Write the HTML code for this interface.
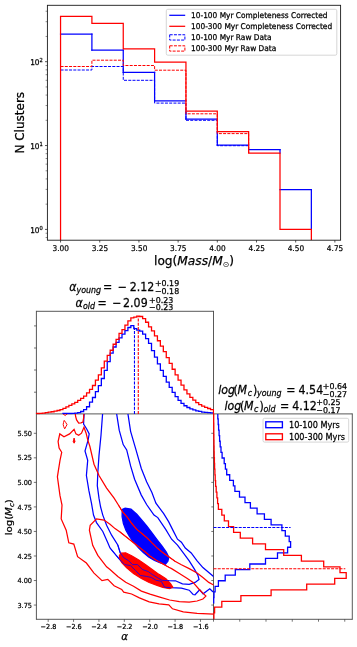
<!DOCTYPE html>
<html><head><meta charset="utf-8"><title>Cluster mass function</title>
<style>
html,body{margin:0;padding:0;background:#ffffff;}
svg{display:block;font-family:"DejaVu Sans","Liberation Sans",sans-serif;fill:#000;}
text{stroke:#000;stroke-width:0.25px;}
text.s{stroke-width:0.22px;}
</style></head><body>
<svg width="357" height="647" viewBox="0 0 357 647">
<defs>
<clipPath id="c1"><rect x="47.4" y="5.3" width="293.20" height="234.90"/></clipPath>
<clipPath id="c2"><rect x="35.699999999999996" y="311.3" width="178.50" height="103.30"/></clipPath>
<clipPath id="c3"><rect x="212.8" y="413.9" width="139.50" height="206.10"/></clipPath>
<clipPath id="c4"><rect x="36.4" y="413.9" width="177.10" height="205.40"/></clipPath>
</defs>
<rect x="0" y="0" width="357" height="647" fill="#ffffff"/>
<g clip-path="url(#c1)">
<line x1="60.55" y1="34.10" x2="91.90" y2="34.10" stroke="#0000ff" stroke-width="1.25" stroke-linecap="square"/>
<line x1="91.90" y1="50.10" x2="123.25" y2="50.10" stroke="#0000ff" stroke-width="1.25" stroke-linecap="square"/>
<line x1="123.25" y1="72.30" x2="154.60" y2="72.30" stroke="#0000ff" stroke-width="1.25" stroke-linecap="square"/>
<line x1="154.60" y1="100.80" x2="185.95" y2="100.80" stroke="#0000ff" stroke-width="1.25" stroke-linecap="square"/>
<line x1="185.95" y1="119.10" x2="217.30" y2="119.10" stroke="#0000ff" stroke-width="1.25" stroke-linecap="square"/>
<line x1="217.30" y1="145.20" x2="248.65" y2="145.20" stroke="#0000ff" stroke-width="1.25" stroke-linecap="square"/>
<line x1="248.65" y1="149.60" x2="280.00" y2="149.60" stroke="#0000ff" stroke-width="1.25" stroke-linecap="square"/>
<line x1="280.00" y1="189.60" x2="311.35" y2="189.60" stroke="#0000ff" stroke-width="1.25" stroke-linecap="square"/>
<line x1="91.90" y1="34.10" x2="91.90" y2="50.10" stroke="#0000ff" stroke-width="1.25" stroke-linecap="square"/>
<line x1="123.25" y1="50.10" x2="123.25" y2="72.30" stroke="#0000ff" stroke-width="1.25" stroke-linecap="square"/>
<line x1="154.60" y1="72.30" x2="154.60" y2="100.80" stroke="#0000ff" stroke-width="1.25" stroke-linecap="square"/>
<line x1="185.95" y1="111.00" x2="185.95" y2="119.10" stroke="#0000ff" stroke-width="1.25" stroke-linecap="square"/>
<line x1="217.30" y1="131.50" x2="217.30" y2="145.20" stroke="#0000ff" stroke-width="1.25" stroke-linecap="square"/>
<line x1="280.00" y1="149.60" x2="280.00" y2="153.10" stroke="#0000ff" stroke-width="1.25" stroke-linecap="square"/>
<line x1="311.35" y1="189.60" x2="311.35" y2="229.40" stroke="#0000ff" stroke-width="1.25" stroke-linecap="square"/>
<path d="M60.55,70.00 L91.90,70.00 L91.90,66.50 L123.25,66.50 L123.25,80.30 L154.60,80.30 L154.60,103.10 L185.95,103.10 L185.95,120.30 L217.30,120.30 L217.30,145.70 L248.65,145.70 L248.65,149.60" fill="none" stroke="#0000ff" stroke-width="1.0" stroke-linejoin="miter" stroke-dasharray="3.0 1.25"/>
<path d="M60.55,240.20 L60.55,16.35 L91.90,16.35 L91.90,23.45 L123.25,23.45 L123.25,48.80 L154.60,48.80 L154.60,62.20 L185.95,62.20 L185.95,111.00 L217.30,111.00 L217.30,131.50 L248.65,131.50 L248.65,153.10 L280.00,153.10 L280.00,229.40 L311.35,229.40 L311.35,240.20" fill="none" stroke="#ff0000" stroke-width="1.25" stroke-linejoin="miter" />
<path d="M60.55,66.50 L91.90,66.50 L91.90,60.20 L123.25,60.20 L123.25,65.50 L154.60,65.50 L154.60,70.20 L185.95,70.20 L185.95,113.80 L217.30,113.80 L217.30,133.60 L248.65,133.60 L248.65,153.10" fill="none" stroke="#ff0000" stroke-width="1.0" stroke-linejoin="miter" stroke-dasharray="3.0 1.25"/>
</g>
<rect x="47.4" y="5.3" width="293.20" height="234.90" fill="none" stroke="#1a1a1a" stroke-width="0.9"/>
<line x1="60.55" y1="240.20" x2="60.55" y2="242.50" stroke="#1c1c1c" stroke-width="0.75" />
<text transform="translate(60.75,251.10) scale(0.935,1)" font-size="7.9" text-anchor="middle" class="s">3.00</text>
<line x1="99.74" y1="240.20" x2="99.74" y2="242.50" stroke="#1c1c1c" stroke-width="0.75" />
<text transform="translate(99.94,251.10) scale(0.935,1)" font-size="7.9" text-anchor="middle" class="s">3.25</text>
<line x1="138.93" y1="240.20" x2="138.93" y2="242.50" stroke="#1c1c1c" stroke-width="0.75" />
<text transform="translate(139.12,251.10) scale(0.935,1)" font-size="7.9" text-anchor="middle" class="s">3.50</text>
<line x1="178.11" y1="240.20" x2="178.11" y2="242.50" stroke="#1c1c1c" stroke-width="0.75" />
<text transform="translate(178.31,251.10) scale(0.935,1)" font-size="7.9" text-anchor="middle" class="s">3.75</text>
<line x1="217.30" y1="240.20" x2="217.30" y2="242.50" stroke="#1c1c1c" stroke-width="0.75" />
<text transform="translate(217.50,251.10) scale(0.935,1)" font-size="7.9" text-anchor="middle" class="s">4.00</text>
<line x1="256.49" y1="240.20" x2="256.49" y2="242.50" stroke="#1c1c1c" stroke-width="0.75" />
<text transform="translate(256.69,251.10) scale(0.935,1)" font-size="7.9" text-anchor="middle" class="s">4.25</text>
<line x1="295.68" y1="240.20" x2="295.68" y2="242.50" stroke="#1c1c1c" stroke-width="0.75" />
<text transform="translate(295.88,251.10) scale(0.935,1)" font-size="7.9" text-anchor="middle" class="s">4.50</text>
<line x1="334.86" y1="240.20" x2="334.86" y2="242.50" stroke="#1c1c1c" stroke-width="0.75" />
<text transform="translate(335.06,251.10) scale(0.935,1)" font-size="7.9" text-anchor="middle" class="s">4.75</text>
<line x1="45.00" y1="229.40" x2="47.40" y2="229.40" stroke="#1c1c1c" stroke-width="0.75" />
<text transform="translate(42.80,232.90) scale(0.935,1)" font-size="7.9" text-anchor="end">10<tspan dy="-3.4" font-size="5.53">0</tspan></text>
<line x1="45.00" y1="145.55" x2="47.40" y2="145.55" stroke="#1c1c1c" stroke-width="0.75" />
<text transform="translate(42.80,149.05) scale(0.935,1)" font-size="7.9" text-anchor="end">10<tspan dy="-3.4" font-size="5.53">1</tspan></text>
<line x1="45.00" y1="61.70" x2="47.40" y2="61.70" stroke="#1c1c1c" stroke-width="0.75" />
<text transform="translate(42.80,65.20) scale(0.935,1)" font-size="7.9" text-anchor="end">10<tspan dy="-3.4" font-size="5.53">2</tspan></text>
<line x1="45.60" y1="237.53" x2="47.40" y2="237.53" stroke="#1c1c1c" stroke-width="0.5" />
<line x1="45.60" y1="233.24" x2="47.40" y2="233.24" stroke="#1c1c1c" stroke-width="0.5" />
<line x1="45.60" y1="204.16" x2="47.40" y2="204.16" stroke="#1c1c1c" stroke-width="0.5" />
<line x1="45.60" y1="189.39" x2="47.40" y2="189.39" stroke="#1c1c1c" stroke-width="0.5" />
<line x1="45.60" y1="178.92" x2="47.40" y2="178.92" stroke="#1c1c1c" stroke-width="0.5" />
<line x1="45.60" y1="170.79" x2="47.40" y2="170.79" stroke="#1c1c1c" stroke-width="0.5" />
<line x1="45.60" y1="164.15" x2="47.40" y2="164.15" stroke="#1c1c1c" stroke-width="0.5" />
<line x1="45.60" y1="158.54" x2="47.40" y2="158.54" stroke="#1c1c1c" stroke-width="0.5" />
<line x1="45.60" y1="153.68" x2="47.40" y2="153.68" stroke="#1c1c1c" stroke-width="0.5" />
<line x1="45.60" y1="149.39" x2="47.40" y2="149.39" stroke="#1c1c1c" stroke-width="0.5" />
<line x1="45.60" y1="120.31" x2="47.40" y2="120.31" stroke="#1c1c1c" stroke-width="0.5" />
<line x1="45.60" y1="105.54" x2="47.40" y2="105.54" stroke="#1c1c1c" stroke-width="0.5" />
<line x1="45.60" y1="95.07" x2="47.40" y2="95.07" stroke="#1c1c1c" stroke-width="0.5" />
<line x1="45.60" y1="86.94" x2="47.40" y2="86.94" stroke="#1c1c1c" stroke-width="0.5" />
<line x1="45.60" y1="80.30" x2="47.40" y2="80.30" stroke="#1c1c1c" stroke-width="0.5" />
<line x1="45.60" y1="74.69" x2="47.40" y2="74.69" stroke="#1c1c1c" stroke-width="0.5" />
<line x1="45.60" y1="69.83" x2="47.40" y2="69.83" stroke="#1c1c1c" stroke-width="0.5" />
<line x1="45.60" y1="65.54" x2="47.40" y2="65.54" stroke="#1c1c1c" stroke-width="0.5" />
<line x1="45.60" y1="36.46" x2="47.40" y2="36.46" stroke="#1c1c1c" stroke-width="0.5" />
<line x1="45.60" y1="21.69" x2="47.40" y2="21.69" stroke="#1c1c1c" stroke-width="0.5" />
<line x1="45.60" y1="11.22" x2="47.40" y2="11.22" stroke="#1c1c1c" stroke-width="0.5" />
<text transform="translate(194.00,265.20) scale(1.0,1)" font-size="12.2" text-anchor="middle" >log(<tspan font-style="italic">Mass</tspan>/<tspan font-style="italic">M</tspan><tspan dy="2.2" font-size="7.8" stroke-width="0">⊙</tspan><tspan dy="-2.2">)</tspan></text>
<text transform="translate(23.5,122.75) rotate(-90)" font-size="12.0" text-anchor="middle">N Clusters</text>
<rect x="166.3" y="9.3" width="170.5" height="45.9" rx="1.5" fill="#ffffff" fill-opacity="0.8" stroke="#cccccc" stroke-width="0.8"/>
<line x1="169.30" y1="15.30" x2="185.20" y2="15.30" stroke="#0000ff" stroke-width="1.25" />
<line x1="169.30" y1="26.30" x2="185.20" y2="26.30" stroke="#ff0000" stroke-width="1.25" />
<rect x="169.7" y="34.75" width="15.2" height="5.3" fill="none" stroke="#0000ff" stroke-width="1.0" stroke-dasharray="3.0 1.25"/>
<rect x="169.7" y="45.8" width="15.2" height="5.3" fill="none" stroke="#ff0000" stroke-width="1.0" stroke-dasharray="3.0 1.25"/>
<text transform="translate(191.00,18.25) scale(0.935,1)" font-size="7.95" text-anchor="start" >10-100 Myr Completeness Corrected</text>
<text transform="translate(191.00,29.25) scale(0.935,1)" font-size="7.95" text-anchor="start" >100-300 Myr Completeness Corrected</text>
<text transform="translate(191.00,40.30) scale(0.935,1)" font-size="7.95" text-anchor="start" >10-100 Myr Raw Data</text>
<text transform="translate(191.00,51.35) scale(0.935,1)" font-size="7.95" text-anchor="start" >100-300 Myr Raw Data</text>
<line x1="36.40" y1="311.30" x2="213.50" y2="311.30" stroke="#3a3a3a" stroke-width="0.85" />
<line x1="36.40" y1="310.85" x2="36.40" y2="619.75" stroke="#3a3a3a" stroke-width="0.85" />
<line x1="213.50" y1="310.85" x2="213.50" y2="619.75" stroke="#3a3a3a" stroke-width="0.85" />
<line x1="36.40" y1="413.90" x2="352.30" y2="413.90" stroke="#3a3a3a" stroke-width="0.85" />
<line x1="36.40" y1="619.30" x2="352.30" y2="619.30" stroke="#3a3a3a" stroke-width="0.85" />
<line x1="352.30" y1="413.45" x2="352.30" y2="619.75" stroke="#3a3a3a" stroke-width="0.85" />
<g clip-path="url(#c2)">
<path d="M62.97,413.90 L62.97,413.52 L65.92,413.52 L65.92,413.51 L68.87,413.51 L68.87,413.50 L71.82,413.50 L71.82,413.38 L74.77,413.38 L74.77,413.11 L77.72,413.11 L77.72,412.67 L80.67,412.67 L80.67,411.52 L83.63,411.52 L83.63,409.64 L86.58,409.64 L86.58,406.74 L89.53,406.74 L89.53,402.20 L92.48,402.20 L92.48,397.51 L95.43,397.51 L95.43,391.68 L98.38,391.68 L98.38,385.58 L101.34,385.58 L101.34,378.51 L104.29,378.51 L104.29,370.28 L107.24,370.28 L107.24,361.54 L110.19,361.54 L110.19,353.12 L113.14,353.12 L113.14,346.99 L116.09,346.99 L116.09,342.34 L119.05,342.34 L119.05,337.88 L122.00,337.88 L122.00,334.06 L124.95,334.06 L124.95,330.61 L127.90,330.61 L127.90,327.52 L130.85,327.52 L130.85,325.61 L133.81,325.61 L133.81,328.61 L136.76,328.61 L136.76,330.08 L139.71,330.08 L139.71,331.04 L142.66,331.04 L142.66,334.11 L145.61,334.11 L145.61,338.67 L148.56,338.67 L148.56,343.40 L151.51,343.40 L151.51,350.53 L154.47,350.53 L154.47,357.15 L157.42,357.15 L157.42,363.78 L160.37,363.78 L160.37,370.39 L163.32,370.39 L163.32,376.30 L166.27,376.30 L166.27,382.12 L169.22,382.12 L169.22,387.39 L172.18,387.39 L172.18,392.42 L175.13,392.42 L175.13,396.58 L178.08,396.58 L178.08,400.36 L181.03,400.36 L181.03,403.31 L183.98,403.31 L183.98,405.74 L186.94,405.74 L186.94,407.48 L189.89,407.48 L189.89,408.84 L192.84,408.84 L192.84,409.85 L195.79,409.85 L195.79,410.78 L198.74,410.78 L198.74,411.47 L201.69,411.47 L201.69,412.17 L204.65,412.17 L204.65,412.45 L207.60,412.45 L207.60,412.70 L210.55,412.70 L210.55,412.96 L213.50,412.96 L213.50,413.90" fill="none" stroke="#0000ff" stroke-width="1.3" stroke-linejoin="miter" />
<path d="M36.40,413.90 L36.40,413.50 L39.35,413.50 L39.35,413.29 L42.30,413.29 L42.30,413.09 L45.25,413.09 L45.25,412.71 L48.21,412.71 L48.21,412.22 L51.16,412.22 L51.16,411.73 L54.11,411.73 L54.11,411.18 L57.06,411.18 L57.06,410.52 L60.01,410.52 L60.01,409.59 L62.97,409.59 L62.97,408.33 L65.92,408.33 L65.92,406.88 L68.87,406.88 L68.87,405.42 L71.82,405.42 L71.82,403.92 L74.77,403.92 L74.77,402.34 L77.72,402.34 L77.72,400.39 L80.67,400.39 L80.67,398.39 L83.63,398.39 L83.63,396.20 L86.58,396.20 L86.58,392.95 L89.53,392.95 L89.53,389.46 L92.48,389.46 L92.48,385.49 L95.43,385.49 L95.43,380.17 L98.38,380.17 L98.38,374.78 L101.34,374.78 L101.34,367.94 L104.29,367.94 L104.29,361.17 L107.24,361.17 L107.24,355.46 L110.19,355.46 L110.19,350.26 L113.14,350.26 L113.14,344.27 L116.09,344.27 L116.09,339.37 L119.05,339.37 L119.05,333.39 L122.00,333.39 L122.00,329.63 L124.95,329.63 L124.95,325.19 L127.90,325.19 L127.90,320.78 L130.85,320.78 L130.85,317.87 L133.81,317.87 L133.81,317.15 L136.76,317.15 L136.76,316.15 L139.71,316.15 L139.71,316.50 L142.66,316.50 L142.66,318.54 L145.61,318.54 L145.61,322.26 L148.56,322.26 L148.56,326.88 L151.51,326.88 L151.51,330.89 L154.47,330.89 L154.47,335.90 L157.42,335.90 L157.42,340.77 L160.37,340.77 L160.37,346.11 L163.32,346.11 L163.32,351.69 L166.27,351.69 L166.27,357.60 L169.22,357.60 L169.22,363.46 L172.18,363.46 L172.18,369.26 L175.13,369.26 L175.13,374.85 L178.08,374.85 L178.08,380.18 L181.03,380.18 L181.03,385.15 L183.98,385.15 L183.98,389.85 L186.94,389.85 L186.94,393.82 L189.89,393.82 L189.89,397.40 L192.84,397.40 L192.84,400.15 L195.79,400.15 L195.79,402.62 L198.74,402.62 L198.74,404.60 L201.69,404.60 L201.69,406.05 L204.65,406.05 L204.65,407.42 L207.60,407.42 L207.60,408.48 L210.55,408.48 L210.55,409.54 L213.50,409.54 L213.50,413.90" fill="none" stroke="#ff0000" stroke-width="1.3" stroke-linejoin="miter" />
<line x1="134.47" y1="413.90" x2="134.47" y2="327.50" stroke="#0000ff" stroke-width="1.1" stroke-dasharray="3.0 1.2"/>
<line x1="138.28" y1="413.90" x2="138.28" y2="316.00" stroke="#ff0000" stroke-width="1.1" stroke-dasharray="3.0 1.2"/>
</g>
<g clip-path="url(#c3)">
<path d="M213.50,410.90 L217.50,410.90 L217.50,407.77 L217.60,410.90 L217.60,413.35 L217.80,413.35 L217.80,418.93 L218.20,418.93 L218.20,424.51 L218.60,424.51 L218.60,430.09 L219.10,430.09 L219.10,435.67 L219.60,435.67 L219.60,441.25 L220.20,441.25 L220.20,446.83 L221.00,446.83 L221.00,452.41 L222.10,452.41 L222.10,457.99 L224.20,457.99 L224.20,463.57 L225.40,463.57 L225.40,469.15 L226.70,469.15 L226.70,474.73 L229.70,474.73 L229.70,480.31 L233.40,480.31 L233.40,485.89 L234.90,485.89 L234.90,491.47 L239.50,491.47 L239.50,497.05 L245.00,497.05 L245.00,502.63 L250.40,502.63 L250.40,508.21 L257.10,508.21 L257.10,513.79 L264.40,513.79 L264.40,519.37 L271.10,519.37 L271.10,524.95 L281.90,524.95 L281.90,530.53 L285.30,530.53 L285.30,536.11 L289.20,536.11 L289.20,541.69 L290.60,541.69 L290.60,547.27 L287.60,547.27 L287.60,552.85 L277.50,552.85 L277.50,558.43 L265.50,558.43 L265.50,564.01 L249.80,564.01 L249.80,569.59 L235.30,569.59 L235.30,575.17 L225.20,575.17 L225.20,580.75 L218.40,580.75 L218.40,586.33 L215.10,586.33 L215.10,591.91 L214.00,591.91 L214.00,597.49 L213.70,597.49 L213.70,603.07 L213.50,603.07" fill="none" stroke="#0000ff" stroke-width="1.3" stroke-linejoin="miter" />
<path d="M213.50,411.60 L213.70,411.60 L213.70,417.35 L213.70,417.35 L213.70,423.10 L213.80,423.10 L213.80,428.85 L213.80,428.85 L213.80,434.60 L213.90,434.60 L213.90,440.35 L214.00,440.35 L214.00,446.10 L214.10,446.10 L214.10,451.85 L214.20,451.85 L214.20,457.60 L214.40,457.60 L214.40,463.35 L214.60,463.35 L214.60,469.10 L214.90,469.10 L214.90,474.85 L215.20,474.85 L215.20,480.60 L215.60,480.60 L215.60,486.35 L216.20,486.35 L216.20,492.10 L216.90,492.10 L216.90,497.85 L217.60,497.85 L217.60,503.60 L218.40,503.60 L218.40,509.35 L221.80,509.35 L221.80,515.10 L224.30,515.10 L224.30,520.85 L228.50,520.85 L228.50,526.60 L233.60,526.60 L233.60,532.35 L240.30,532.35 L240.30,538.10 L252.60,538.10 L252.60,543.85 L265.50,543.85 L265.50,549.60 L283.70,549.60 L283.70,555.35 L301.40,555.35 L301.40,561.10 L323.70,561.10 L323.70,566.85 L340.00,566.85 L340.00,572.60 L346.20,572.60 L346.20,578.35 L334.70,578.35 L334.70,584.10 L306.70,584.10 L306.70,589.85 L271.10,589.85 L271.10,595.60 L240.90,595.60 L240.90,601.35 L221.80,601.35 L221.80,607.10 L214.60,607.10 L214.60,612.85 L213.90,612.85 L213.90,618.60 L213.50,618.60" fill="none" stroke="#ff0000" stroke-width="1.3" stroke-linejoin="miter" />
<line x1="213.50" y1="527.52" x2="290.60" y2="527.52" stroke="#0000ff" stroke-width="1.1" stroke-dasharray="3.0 1.2"/>
<line x1="213.50" y1="568.75" x2="345.30" y2="568.75" stroke="#ff0000" stroke-width="1.1" stroke-dasharray="3.0 1.2"/>
</g>
<g clip-path="url(#c4)">
<path d="M84.30,411.00 L83.80,419.00 L83.60,424.10 L86.70,429.00 L89.20,433.90 L88.10,440.20 L86.10,447.20 L85.00,451.00 L87.70,460.40 L86.40,475.50 L88.90,490.70 L91.50,503.30 L93.50,515.10 L96.50,522.60 L102.80,531.50 L107.80,542.80 L110.00,547.90 L114.90,553.80 L119.80,559.70 L124.70,564.60 L130.60,565.60 L135.50,570.50 L140.40,575.40 L146.30,576.40 L151.20,577.40 L156.10,580.30 L161.40,581.30 L164.50,587.20 L170.80,587.70 L181.40,588.20 L189.20,590.20 L193.10,594.50 L195.00,594.80 L199.70,589.80 L203.10,593.80 L209.80,588.80 L212.60,591.50 L216.00,591.00" fill="none" stroke="#0000ff" stroke-width="1.25" stroke-linejoin="miter" />
<path d="M127.50,411.00 L130.60,431.30 L136.00,449.90 L141.30,468.50 L146.60,481.80 L151.90,492.50 L155.90,503.10 L163.70,513.70 L168.60,521.60 L173.50,531.40 L177.50,539.20 L181.40,542.20 L185.30,548.00 L191.20,552.90 L197.10,560.80 L202.90,567.60 L208.80,572.50 L216.00,578.50" fill="none" stroke="#0000ff" stroke-width="1.25" stroke-linejoin="miter" />
<path d="M102.80,411.00 L101.00,435.20 L99.00,455.40 L97.80,473.00 L97.30,485.60 L99.00,498.20 L100.60,507.00 L102.80,515.10 L106.60,525.20 L111.60,535.20 L117.80,545.00 L120.20,552.80 L123.70,557.70 L128.60,560.70 L132.50,564.60 L137.50,564.60 L142.40,569.50 L148.20,571.50 L152.20,574.40 L157.10,577.40 L162.00,580.30 L168.80,580.70 L175.50,580.80 L182.40,583.90 L189.20,584.30 L195.10,582.40 L199.00,579.40 L198.00,575.50 L194.10,568.60 L189.20,560.80 L183.30,552.90 L177.50,545.10 L171.60,539.20 L165.70,529.40 L157.80,517.60 L154.00,515.10 L146.60,504.50 L141.30,495.10 L134.60,479.20 L130.60,465.90 L126.70,449.90 L123.20,444.60 L119.20,430.20 L116.20,411.00" fill="none" stroke="#0000ff" stroke-width="1.25" stroke-linejoin="miter" />
<path d="M122.60,509.20 L125.10,508.10 L131.00,509.20 L136.80,514.30 L141.90,520.20 L146.90,526.10 L152.00,532.80 L157.00,539.50 L162.10,546.20 L166.30,552.10 L168.80,557.10 L167.90,561.30 L165.40,564.20 L160.40,563.00 L154.50,560.50 L148.60,557.10 L143.60,552.90 L138.50,547.90 L133.50,542.00 L129.30,536.10 L125.90,530.30 L123.40,523.50 L122.10,516.80 L122.10,512.60 Z" fill="#0000ff" stroke="#0000ff" stroke-width="1.25" stroke-linejoin="miter" />
<path d="M119.40,555.80 L120.80,553.20 L125.70,552.80 L131.60,555.80 L138.40,559.70 L145.30,564.60 L152.20,569.50 L159.00,574.40 L165.90,578.80 L170.50,583.60 L172.80,587.20 L169.50,588.70 L162.90,587.40 L157.10,585.40 L149.20,582.50 L141.40,578.50 L133.50,573.60 L126.70,567.70 L121.80,562.60 L119.80,558.70 Z" fill="#ff0000" stroke="#ff0000" stroke-width="1.25" stroke-linejoin="miter" />
<path d="M110.00,547.90 L114.90,553.80 L119.80,559.70 L124.70,564.60 L130.60,565.60 L135.50,570.50 L140.40,575.40 L146.30,576.40 L151.20,577.40 L156.10,580.30 L161.40,581.30 L164.50,587.20 L170.80,587.70" fill="none" stroke="#0000ff" stroke-width="0.8" stroke-linejoin="miter" />
<path d="M117.80,545.00 L120.20,552.80 L123.70,557.70 L128.60,560.70 L132.50,564.60 L137.50,564.60 L142.40,569.50 L148.20,571.50 L152.20,574.40 L157.10,577.40 L162.00,580.30 L168.80,580.70" fill="none" stroke="#0000ff" stroke-width="0.8" stroke-linejoin="miter" />
<path d="M216.00,584.90 L213.10,584.70 L208.80,582.40 L202.90,577.50 L197.10,572.90 L189.20,568.60 L181.40,564.70 L175.00,561.30 L170.50,558.00 L165.40,554.60 L162.10,552.10 L157.00,547.90 L152.00,542.90 L146.90,537.80 L141.90,533.60 L136.80,529.40 L131.80,523.50 L127.60,517.60 L122.60,511.80 L118.40,505.00 L114.10,498.20 L106.60,488.10 L99.00,475.50 L94.00,464.20 L89.90,446.50 L87.80,440.20 L86.10,433.20 L84.00,427.30 L81.50,433.20 L78.70,435.30 L75.90,433.90 L74.10,429.30 L69.60,433.90 L64.00,436.70 L59.80,433.90 L58.10,441.60 L59.10,448.00 L61.70,452.30 L60.00,460.40 L57.40,476.80 L60.00,495.70 L62.00,505.00 L61.20,518.90 L66.20,530.20 L68.80,542.80 L73.80,544.10 L77.60,556.70 L86.40,563.00 L94.00,573.10 L102.00,580.60 L107.80,579.40 L114.10,585.70 L121.70,589.40 L123.70,592.10 L131.60,594.00 L139.40,597.90 L149.20,601.90 L159.00,603.80 L168.80,604.80 L172.50,608.80 L183.30,611.80 L197.10,613.30 L216.00,614.20" fill="none" stroke="#ff0000" stroke-width="1.25" stroke-linejoin="miter" />
<path d="M96.50,518.90 L90.20,525.20 L89.40,530.20 L92.70,545.30 L97.80,555.40 L106.60,566.80 L110.00,569.50 L117.80,576.40 L125.70,582.30 L133.50,586.20 L141.40,591.10 L150.00,594.10 L159.80,597.10 L169.60,600.00 L179.40,601.60 L189.20,602.00 L197.10,601.00 L202.90,599.00 L205.90,596.10 L203.90,594.10 L199.00,589.20 L193.10,582.40 L187.30,578.40 L179.40,573.50 L171.60,568.60 L168.80,567.20 L162.10,563.50 L156.20,560.20 L150.30,556.30 L145.30,552.10 L140.20,547.90 L135.20,544.00 L130.10,540.00 L125.10,536.10 L120.00,531.90 L115.00,528.60 L110.00,524.20 L104.00,520.10 Z" fill="none" stroke="#ff0000" stroke-width="1.25" stroke-linejoin="miter" />
<path d="M118.40,505.00 L122.60,511.80 L127.60,517.60 L131.80,523.50 L136.80,529.40 L141.90,533.60 L146.90,537.80 L152.00,542.90 L157.00,547.90 L162.10,552.10 L165.40,554.60 L170.50,558.00 L175.00,561.30" fill="none" stroke="#ff0000" stroke-width="0.9" stroke-linejoin="miter" />
<path d="M120.00,531.90 L125.10,536.10 L130.10,540.00 L135.20,544.00 L140.20,547.90 L145.30,552.10 L150.30,556.30 L156.20,560.20 L162.10,563.50 L168.80,567.20" fill="none" stroke="#ff0000" stroke-width="0.9" stroke-linejoin="miter" />
<path d="M64.20,420.40 L65.60,422.30 L67.00,424.60 L65.80,426.80 L64.70,428.80 L63.70,426.60 L63.20,424.40 L63.60,422.30 Z" fill="none" stroke="#ff0000" stroke-width="1.0" stroke-linejoin="miter" />
<path d="M74.10,438.00 L75.00,441.60 L74.10,443.20 L73.20,441.60 Z" fill="#ff0000" stroke="#ff0000" stroke-width="0.9" stroke-linejoin="miter" />
<path d="M75.00,411.00 L75.60,416.50 L76.60,419.90 L78.70,423.10 L81.00,422.80 L82.90,422.00 L83.60,418.00 L84.00,411.00" fill="none" stroke="#ff0000" stroke-width="1.25" stroke-linejoin="miter" />
<path d="M62.40,413.40 L65.20,415.50 L67.80,413.40" fill="none" stroke="#ff0000" stroke-width="1.0" stroke-linejoin="miter" />
</g>
<line x1="48.18" y1="619.30" x2="48.18" y2="621.90" stroke="#3a3a3a" stroke-width="0.7" />
<text transform="translate(48.48,629.00) scale(0.94,1)" font-size="6.9" text-anchor="middle" class="s">−2.8</text>
<line x1="73.56" y1="619.30" x2="73.56" y2="621.90" stroke="#3a3a3a" stroke-width="0.7" />
<text transform="translate(73.86,629.00) scale(0.94,1)" font-size="6.9" text-anchor="middle" class="s">−2.6</text>
<line x1="98.94" y1="619.30" x2="98.94" y2="621.90" stroke="#3a3a3a" stroke-width="0.7" />
<text transform="translate(99.24,629.00) scale(0.94,1)" font-size="6.9" text-anchor="middle" class="s">−2.4</text>
<line x1="124.32" y1="619.30" x2="124.32" y2="621.90" stroke="#3a3a3a" stroke-width="0.7" />
<text transform="translate(124.62,629.00) scale(0.94,1)" font-size="6.9" text-anchor="middle" class="s">−2.2</text>
<line x1="149.70" y1="619.30" x2="149.70" y2="621.90" stroke="#3a3a3a" stroke-width="0.7" />
<text transform="translate(150.00,629.00) scale(0.94,1)" font-size="6.9" text-anchor="middle" class="s">−2.0</text>
<line x1="175.08" y1="619.30" x2="175.08" y2="621.90" stroke="#3a3a3a" stroke-width="0.7" />
<text transform="translate(175.38,629.00) scale(0.94,1)" font-size="6.9" text-anchor="middle" class="s">−1.8</text>
<line x1="200.46" y1="619.30" x2="200.46" y2="621.90" stroke="#3a3a3a" stroke-width="0.7" />
<text transform="translate(200.76,629.00) scale(0.94,1)" font-size="6.9" text-anchor="middle" class="s">−1.6</text>
<line x1="33.80" y1="605.06" x2="36.40" y2="605.06" stroke="#3a3a3a" stroke-width="0.7" />
<text transform="translate(32.00,607.66) scale(0.95,1)" font-size="6.9" text-anchor="end" class="s">3.75</text>
<line x1="211.30" y1="605.06" x2="213.50" y2="605.06" stroke="#3a3a3a" stroke-width="0.7" />
<line x1="33.80" y1="580.53" x2="36.40" y2="580.53" stroke="#3a3a3a" stroke-width="0.7" />
<text transform="translate(32.00,583.13) scale(0.95,1)" font-size="6.9" text-anchor="end" class="s">4.00</text>
<line x1="211.30" y1="580.53" x2="213.50" y2="580.53" stroke="#3a3a3a" stroke-width="0.7" />
<line x1="33.80" y1="555.99" x2="36.40" y2="555.99" stroke="#3a3a3a" stroke-width="0.7" />
<text transform="translate(32.00,558.59) scale(0.95,1)" font-size="6.9" text-anchor="end" class="s">4.25</text>
<line x1="211.30" y1="555.99" x2="213.50" y2="555.99" stroke="#3a3a3a" stroke-width="0.7" />
<line x1="33.80" y1="531.45" x2="36.40" y2="531.45" stroke="#3a3a3a" stroke-width="0.7" />
<text transform="translate(32.00,534.05) scale(0.95,1)" font-size="6.9" text-anchor="end" class="s">4.50</text>
<line x1="211.30" y1="531.45" x2="213.50" y2="531.45" stroke="#3a3a3a" stroke-width="0.7" />
<line x1="33.80" y1="506.91" x2="36.40" y2="506.91" stroke="#3a3a3a" stroke-width="0.7" />
<text transform="translate(32.00,509.51) scale(0.95,1)" font-size="6.9" text-anchor="end" class="s">4.75</text>
<line x1="211.30" y1="506.91" x2="213.50" y2="506.91" stroke="#3a3a3a" stroke-width="0.7" />
<line x1="33.80" y1="482.38" x2="36.40" y2="482.38" stroke="#3a3a3a" stroke-width="0.7" />
<text transform="translate(32.00,484.98) scale(0.95,1)" font-size="6.9" text-anchor="end" class="s">5.00</text>
<line x1="211.30" y1="482.38" x2="213.50" y2="482.38" stroke="#3a3a3a" stroke-width="0.7" />
<line x1="33.80" y1="457.84" x2="36.40" y2="457.84" stroke="#3a3a3a" stroke-width="0.7" />
<text transform="translate(32.00,460.44) scale(0.95,1)" font-size="6.9" text-anchor="end" class="s">5.25</text>
<line x1="211.30" y1="457.84" x2="213.50" y2="457.84" stroke="#3a3a3a" stroke-width="0.7" />
<line x1="33.80" y1="433.30" x2="36.40" y2="433.30" stroke="#3a3a3a" stroke-width="0.7" />
<text transform="translate(32.00,435.90) scale(0.95,1)" font-size="6.9" text-anchor="end" class="s">5.50</text>
<line x1="211.30" y1="433.30" x2="213.50" y2="433.30" stroke="#3a3a3a" stroke-width="0.7" />
<line x1="34.00" y1="325.90" x2="36.40" y2="325.90" stroke="#3a3a3a" stroke-width="0.7" />
<line x1="34.00" y1="348.00" x2="36.40" y2="348.00" stroke="#3a3a3a" stroke-width="0.7" />
<line x1="34.00" y1="370.00" x2="36.40" y2="370.00" stroke="#3a3a3a" stroke-width="0.7" />
<line x1="34.00" y1="392.20" x2="36.40" y2="392.20" stroke="#3a3a3a" stroke-width="0.7" />
<line x1="213.50" y1="619.30" x2="213.50" y2="621.70" stroke="#3a3a3a" stroke-width="0.7" />
<line x1="239.75" y1="619.30" x2="239.75" y2="621.70" stroke="#3a3a3a" stroke-width="0.7" />
<line x1="266.00" y1="619.30" x2="266.00" y2="621.70" stroke="#3a3a3a" stroke-width="0.7" />
<line x1="292.25" y1="619.30" x2="292.25" y2="621.70" stroke="#3a3a3a" stroke-width="0.7" />
<line x1="318.50" y1="619.30" x2="318.50" y2="621.70" stroke="#3a3a3a" stroke-width="0.7" />
<line x1="344.75" y1="619.30" x2="344.75" y2="621.70" stroke="#3a3a3a" stroke-width="0.7" />
<text transform="translate(124.55,640.40) scale(1.0,1)" font-size="10.2" text-anchor="middle" font-style="italic">α</text>
<text transform="translate(12.2,517.30) rotate(-90) scale(1,0.94)" font-size="10.2" text-anchor="middle">log(<tspan font-style="italic">M</tspan><tspan font-style="italic" font-size="7.1" dy="1.7">c</tspan><tspan dy="-1.7">)</tspan></text>
<text transform="translate(69.30,290.70) scale(0.92,1)" font-size="12.0" text-anchor="start" font-style="italic">α</text>
<text transform="translate(76.60,292.70) scale(0.92,1)" font-size="8.6" text-anchor="start" font-style="italic">young</text>
<text transform="translate(103.00,290.70) scale(0.92,1)" font-size="12.0" text-anchor="start" >=</text>
<text transform="translate(117.40,290.70) scale(0.92,1)" font-size="12.0" text-anchor="start" >−</text>
<text transform="translate(129.70,290.70) scale(0.92,1)" font-size="12.0" text-anchor="start" >2.12</text>
<text transform="translate(155.00,286.30) scale(0.985,1)" font-size="8.0" text-anchor="start" >+0.19</text>
<text transform="translate(155.00,293.90) scale(0.985,1)" font-size="8.0" text-anchor="start" >−0.18</text>
<text transform="translate(75.50,307.20) scale(0.92,1)" font-size="12.0" text-anchor="start" font-style="italic">α</text>
<text transform="translate(83.00,309.20) scale(0.92,1)" font-size="8.6" text-anchor="start" font-style="italic">old</text>
<text transform="translate(97.60,307.20) scale(0.92,1)" font-size="12.0" text-anchor="start" >=</text>
<text transform="translate(111.90,307.20) scale(0.92,1)" font-size="12.0" text-anchor="start" >−</text>
<text transform="translate(123.10,307.20) scale(0.92,1)" font-size="12.0" text-anchor="start" >2.09</text>
<text transform="translate(149.10,302.70) scale(0.985,1)" font-size="8.0" text-anchor="start" >+0.23</text>
<text transform="translate(149.10,310.30) scale(0.985,1)" font-size="8.0" text-anchor="start" >−0.23</text>
<text transform="translate(218.20,393.50) scale(0.92,1)" font-size="12.0" text-anchor="start" font-style="italic">log</text>
<text transform="translate(233.50,393.50) scale(0.92,1)" font-size="12.0" text-anchor="start" >(</text>
<text transform="translate(237.50,393.50) scale(0.92,1)" font-size="12.0" text-anchor="start" font-style="italic">M</text>
<text transform="translate(247.70,395.50) scale(0.92,1)" font-size="8.6" text-anchor="start" font-style="italic">c</text>
<text transform="translate(252.90,393.50) scale(0.92,1)" font-size="12.0" text-anchor="start" >)</text>
<text transform="translate(257.00,395.50) scale(0.92,1)" font-size="8.6" text-anchor="start" font-style="italic">young</text>
<text transform="translate(286.30,393.50) scale(0.92,1)" font-size="12.0" text-anchor="start" >=</text>
<text transform="translate(298.60,393.50) scale(0.92,1)" font-size="12.0" text-anchor="start" >4.54</text>
<text transform="translate(322.80,389.00) scale(0.985,1)" font-size="8.0" text-anchor="start" >+0.64</text>
<text transform="translate(322.80,396.60) scale(0.985,1)" font-size="8.0" text-anchor="start" >−0.27</text>
<text transform="translate(224.50,409.70) scale(0.92,1)" font-size="12.0" text-anchor="start" font-style="italic">log</text>
<text transform="translate(239.90,409.70) scale(0.92,1)" font-size="12.0" text-anchor="start" >(</text>
<text transform="translate(243.90,409.70) scale(0.92,1)" font-size="12.0" text-anchor="start" font-style="italic">M</text>
<text transform="translate(254.00,411.70) scale(0.92,1)" font-size="8.6" text-anchor="start" font-style="italic">c</text>
<text transform="translate(259.40,409.70) scale(0.92,1)" font-size="12.0" text-anchor="start" >)</text>
<text transform="translate(263.40,411.70) scale(0.92,1)" font-size="8.6" text-anchor="start" font-style="italic">old</text>
<text transform="translate(280.00,409.70) scale(0.92,1)" font-size="12.0" text-anchor="start" >=</text>
<text transform="translate(292.30,409.70) scale(0.92,1)" font-size="12.0" text-anchor="start" >4.12</text>
<text transform="translate(316.30,405.20) scale(0.985,1)" font-size="8.0" text-anchor="start" >+0.25</text>
<text transform="translate(316.30,412.80) scale(0.985,1)" font-size="8.0" text-anchor="start" >−0.17</text>
<rect x="263.0" y="418.3" width="85.7" height="23.8" rx="1.5" fill="#ffffff" fill-opacity="0.8" stroke="#cccccc" stroke-width="0.8"/>
<rect x="265.8" y="421.8" width="16.6" height="5.9" fill="none" stroke="#0000ff" stroke-width="1.35"/>
<rect x="265.8" y="433.8" width="16.6" height="5.9" fill="none" stroke="#ff0000" stroke-width="1.35"/>
<text transform="translate(289.00,428.00) scale(0.92,1)" font-size="8.85" text-anchor="start" >10-100 Myrs</text>
<text transform="translate(289.00,440.10) scale(0.92,1)" font-size="8.85" text-anchor="start" >100-300 Myrs</text>
</svg>
</body></html>
